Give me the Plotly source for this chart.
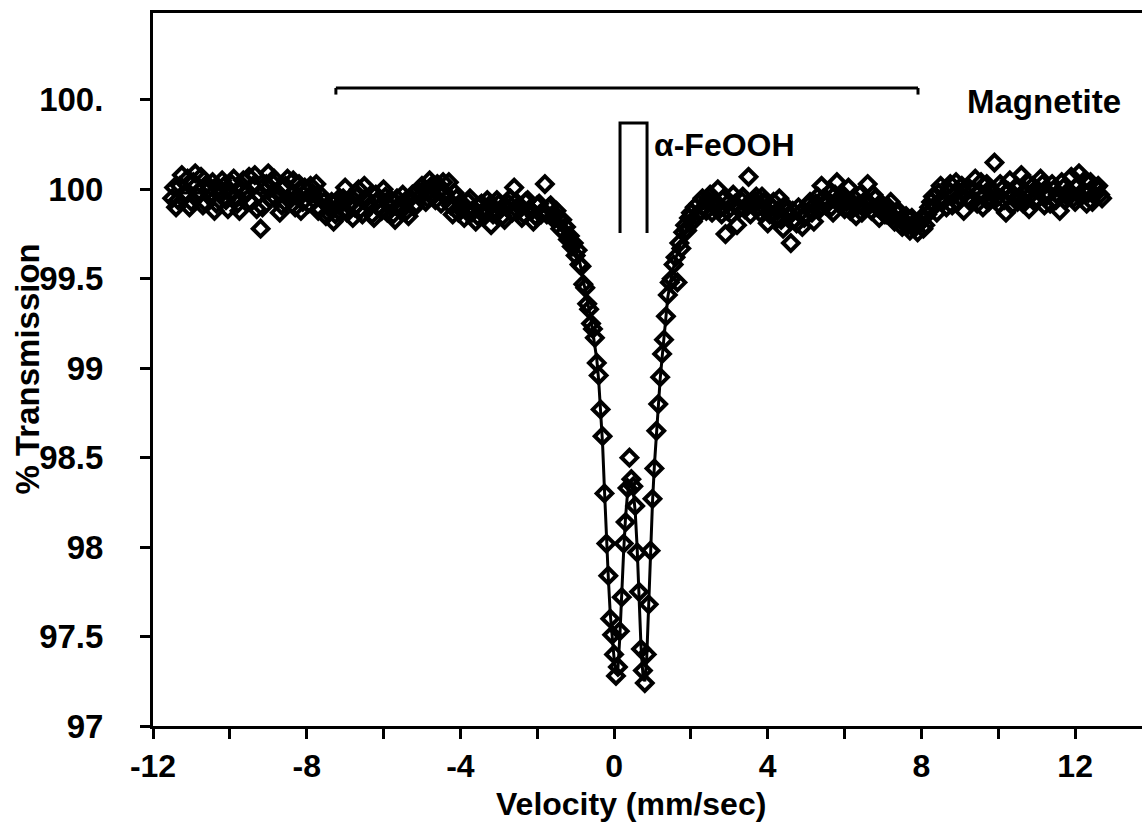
import plotly.graph_objects as go

# ---- measured spectrum (velocity in mm/s, % transmission) ----
vel_left = [-11.5, -11.4, -11.3, -11.2, -11.1, -11.0, -10.9, -10.8, -10.7, -10.6,
            -10.5, -10.4, -10.3, -10.2, -10.1, -10.0, -9.9, -9.8, -9.7, -9.6,
            -9.5, -9.4, -9.3, -9.2, -9.1, -9.0, -8.9, -8.8, -8.7, -8.6,
            -8.5, -8.4, -8.3, -8.2, -8.1, -8.0, -7.9, -7.8, -7.7, -7.6,
            -7.5, -7.4, -7.3, -7.2, -7.1, -7.0, -6.9, -6.8, -6.7, -6.6,
            -6.5, -6.4, -6.3, -6.2, -6.1, -6.0, -5.9, -5.8, -5.7, -5.6,
            -5.5, -5.4, -5.3, -5.2, -5.1, -5.0, -4.9, -4.8, -4.7, -4.6,
            -4.5, -4.4, -4.3, -4.2, -4.1, -4.0, -3.9, -3.8, -3.7, -3.6,
            -3.5, -3.4, -3.3, -3.2, -3.1, -3.0, -2.9, -2.8, -2.7, -2.6,
            -2.5, -2.4, -2.3, -2.2, -2.1, -2.0, -1.9, -1.8, -1.7, -1.6, -1.5]
trans_left = [99.95, 99.90, 100.02, 99.97, 100.06, 99.93, 100.09, 99.99, 99.91, 100.03,
              99.96, 99.88, 100.01, 100.05, 99.94, 99.98, 100.06, 99.92, 100.00, 99.97,
              100.07, 100.02, 99.89, 99.78, 99.99, 100.09, 100.04, 99.95, 99.87, 100.01,
              100.06, 99.97, 99.90, 100.03, 99.93, 99.99, 100.02, 99.94, 99.88, 99.96,
              99.85, 99.90, 99.82, 99.94, 99.87, 100.01, 99.91, 99.84, 99.96, 99.89,
              100.02, 99.93, 99.86, 99.97, 99.90, 100.00, 99.87, 99.94, 99.83, 99.91,
              99.97, 99.88, 99.95, 99.90, 99.99, 100.02, 99.93, 100.05, 99.97, 100.03,
              99.92, 99.98, 100.04, 99.86, 99.95, 99.89, 99.84, 99.93, 99.87, 99.82,
              99.91, 99.86, 99.94, 99.80, 99.89, 99.92, 99.85, 99.90, 99.95, 100.01,
              99.88, 99.84, 99.93, 99.89, 99.82, 99.91, 99.86, 100.03, 99.90, 99.84, 99.88]

vel_left_b = [-11.45, -11.35, -11.25, -11.15, -11.05, -10.95, -10.85, -10.75, -10.65, -10.55,
              -10.45, -10.35, -10.25, -10.15, -10.05, -9.95, -9.85, -9.75, -9.65, -9.55,
              -9.45, -9.35, -9.25, -9.15, -9.05, -8.95, -8.85, -8.75, -8.65, -8.55,
              -8.45, -8.35, -8.25, -8.15, -8.05, -7.95, -7.85, -7.75, -7.65, -7.55,
              -7.45, -7.35, -7.25, -7.15, -7.05, -6.95, -6.85, -6.75, -6.65, -6.55,
              -6.45, -6.35, -6.25, -6.15, -6.05, -5.95, -5.85, -5.75, -5.65, -5.55,
              -5.45, -5.35, -5.25, -5.15, -5.05, -4.95, -4.85, -4.75, -4.65, -4.55,
              -4.45, -4.35, -4.25, -4.15, -4.05, -3.95, -3.85, -3.75, -3.65, -3.55,
              -3.45, -3.35, -3.25, -3.15, -3.05, -2.95, -2.85, -2.75, -2.65, -2.55,
              -2.45, -2.35, -2.25, -2.15, -2.05, -1.95, -1.85, -1.75, -1.65, -1.55]
trans_left_b = [100.01, 99.94, 100.08, 99.98, 99.90, 100.04, 99.96, 100.07, 99.93, 100.00,
                100.04, 99.92, 99.97, 100.02, 99.89, 100.03, 99.96, 99.88, 100.05, 99.99,
                99.93, 100.08, 99.97, 99.90, 100.03, 99.95, 100.06, 99.98, 99.91, 100.02,
                99.94, 100.05, 99.96, 99.88, 100.01, 99.92, 99.98, 100.03, 99.89, 99.93,
                99.87, 99.93, 99.86, 99.91, 99.95, 99.87, 99.93, 99.90, 100.00, 99.86,
                99.95, 99.91, 99.84, 99.94, 99.88, 99.96, 99.91, 99.86, 99.95, 99.88,
                99.93, 99.85, 99.97, 99.92, 99.96, 100.00, 99.95, 100.02, 99.94, 99.99,
                100.04, 99.95, 99.91, 99.98, 99.87, 99.92, 99.88, 99.95, 99.89, 99.85,
                99.92, 99.88, 99.91, 99.86, 99.94, 99.89, 99.83, 99.92, 99.87, 99.93,
                99.90, 99.86, 99.94, 99.88, 99.85, 99.92, 99.88, 99.86, 99.91, 99.85]

vel_dip = [-1.45, -1.40, -1.35, -1.30, -1.25, -1.20, -1.15, -1.10, -1.05, -1.00,
           -0.95, -0.90, -0.85, -0.80, -0.75, -0.70, -0.65, -0.60, -0.55, -0.50,
           -0.45, -0.40, -0.35, -0.30, -0.25, -0.20, -0.15, -0.10, -0.05, 0.00,
           0.05, 0.10, 0.15, 0.20, 0.25, 0.30, 0.35, 0.40, 0.45, 0.50,
           0.55, 0.60, 0.65, 0.70, 0.75, 0.80, 0.85, 0.90, 0.95, 1.00,
           1.05, 1.10, 1.15, 1.20, 1.25, 1.30, 1.35, 1.40, 1.45, 1.50,
           1.55, 1.60, 1.65, 1.70, 1.75, 1.80, 1.85, 1.90, 1.95, 2.00,
           2.05, 2.10, 2.15, 2.20, 2.25]
trans_dip = [99.84, 99.78, 99.83, 99.76, 99.79, 99.72, 99.74, 99.68, 99.70, 99.63,
             99.66, 99.58, 99.57, 99.47, 99.45, 99.36, 99.33, 99.25, 99.22, 99.17,
             99.03, 98.96, 98.77, 98.62, 98.30, 98.02, 97.84, 97.60, 97.51, 97.40,
             97.28, 97.33, 97.53, 97.72, 98.02, 98.14, 98.33, 98.50, 98.38, 98.34,
             98.23, 97.97, 97.75, 97.43, 97.31, 97.24, 97.40, 97.68, 97.98, 98.27,
             98.44, 98.65, 98.80, 98.95, 99.08, 99.16, 99.29, 99.41, 99.48, 99.50,
             99.58, 99.62, 99.48, 99.70, 99.67, 99.76, 99.80, 99.77, 99.84, 99.87,
             99.82, 99.90, 99.85, 99.92, 99.88]

vel_right = [2.3, 2.4, 2.5, 2.6, 2.7, 2.8, 2.9, 3.0, 3.1, 3.2,
             3.3, 3.4, 3.5, 3.6, 3.7, 3.8, 3.9, 4.0, 4.1, 4.2,
             4.3, 4.4, 4.5, 4.6, 4.7, 4.8, 4.9, 5.0, 5.1, 5.2,
             5.3, 5.4, 5.5, 5.6, 5.7, 5.8, 5.9, 6.0, 6.1, 6.2,
             6.3, 6.4, 6.5, 6.6, 6.7, 6.8, 6.9, 7.0, 7.1, 7.2,
             7.3, 7.4, 7.5, 7.6, 7.7, 7.8, 7.9, 8.0, 8.1, 8.2,
             8.3, 8.4, 8.5, 8.6, 8.7, 8.8, 8.9, 9.0, 9.1, 9.2,
             9.3, 9.4, 9.5, 9.6, 9.7, 9.8, 9.9, 10.0, 10.1, 10.2,
             10.3, 10.4, 10.5, 10.6, 10.7, 10.8, 10.9, 11.0, 11.1, 11.2,
             11.3, 11.4, 11.5, 11.6, 11.7, 11.8, 11.9, 12.0, 12.1, 12.2,
             12.3, 12.4, 12.5, 12.6, 12.7]
trans_right = [99.95, 99.88, 99.97, 99.91, 100.00, 99.86, 99.75, 99.93, 99.97, 99.80,
               99.94, 99.89, 100.07, 99.92, 99.96, 99.87, 99.93, 99.81, 99.90, 99.84,
               99.95, 99.78, 99.88, 99.70, 99.83, 99.90, 99.79, 99.86, 99.93, 99.82,
               99.96, 100.02, 99.91, 99.98, 99.87, 100.04, 99.94, 99.89, 100.01, 99.92,
               99.85, 99.97, 99.90, 100.03, 99.88, 99.95, 99.84, 99.91, 99.86, 99.93,
               99.82, 99.88, 99.79, 99.85, 99.77, 99.81, 99.76, 99.84, 99.80, 99.90,
               99.96, 99.87, 100.02, 99.94, 99.99, 99.91, 100.04, 99.96, 99.88, 100.01,
               99.93, 100.06, 99.98, 99.90, 100.03, 99.95, 100.15, 99.92, 100.00, 99.87,
               100.05, 99.97, 99.93, 100.08, 99.99, 99.89, 100.02, 99.95, 100.06, 99.91,
               99.98, 100.03, 99.94, 99.88, 100.01, 99.96, 100.07, 99.93, 100.09, 99.99,
               99.92, 100.04, 99.97, 100.02, 99.95]

vel_right_b = [2.35, 2.45, 2.55, 2.65, 2.75, 2.85, 2.95, 3.05, 3.15, 3.25,
               3.35, 3.45, 3.55, 3.65, 3.75, 3.85, 3.95, 4.05, 4.15, 4.25,
               4.35, 4.45, 4.55, 4.65, 4.75, 4.85, 4.95, 5.05, 5.15, 5.25,
               5.35, 5.45, 5.55, 5.65, 5.75, 5.85, 5.95, 6.05, 6.15, 6.25,
               6.35, 6.45, 6.55, 6.65, 6.75, 6.85, 6.95, 7.05, 7.15, 7.25,
               7.35, 7.45, 7.55, 7.65, 7.75, 7.85, 7.95, 8.05, 8.15, 8.25,
               8.35, 8.45, 8.55, 8.65, 8.75, 8.85, 8.95, 9.05, 9.15, 9.25,
               9.35, 9.45, 9.55, 9.65, 9.75, 9.85, 9.95, 10.05, 10.15, 10.25,
               10.35, 10.45, 10.55, 10.65, 10.75, 10.85, 10.95, 11.05, 11.15, 11.25,
               11.35, 11.45, 11.55, 11.65, 11.75, 11.85, 11.95, 12.05, 12.15, 12.25,
               12.35, 12.45, 12.55, 12.65]
trans_right_b = [99.90, 99.94, 99.87, 99.93, 99.89, 99.95, 99.88, 99.86, 99.92, 99.89,
                 99.96, 99.91, 99.86, 99.94, 99.90, 99.96, 99.89, 99.86, 99.93, 99.88,
                 99.83, 99.91, 99.85, 99.88, 99.81, 99.87, 99.84, 99.91, 99.87, 99.92,
                 99.89, 99.95, 99.94, 99.90, 99.97, 99.92, 99.97, 99.93, 99.88, 99.95,
                 99.91, 99.87, 99.94, 99.92, 99.97, 99.90, 99.88, 99.86, 99.90, 99.85,
                 99.87, 99.83, 99.82, 99.80, 99.84, 99.79, 99.81, 99.78, 99.86, 99.93,
                 99.91, 99.98, 99.95, 99.90, 100.03, 99.97, 99.93, 100.02, 99.98, 99.94,
                 99.99, 99.92, 100.04, 99.97, 99.93, 99.99, 99.95, 100.03, 99.94, 99.99,
                 99.91, 100.01, 99.96, 99.92, 100.04, 99.97, 99.93, 99.99, 100.03, 99.96,
                 99.92, 100.00, 99.97, 100.04, 99.94, 99.99, 99.95, 100.02, 99.96, 100.05,
                 99.98, 99.93, 100.01, 99.97]

# ---- fitted curve ----
fit_vel = [-11.5, -10.0, -8.5, -7.5, -7.2, -6.8, -6.0, -5.0, -4.5, -4.0, -3.0, -2.0, -1.6,
           -1.4, -1.2, -1.1, -1.0, -0.9, -0.8, -0.7, -0.6, -0.5, -0.45, -0.4, -0.35,
           -0.3, -0.25, -0.2, -0.15, -0.1, -0.05, 0.0, 0.05, 0.1, 0.15, 0.2, 0.25,
           0.3, 0.35, 0.4, 0.45, 0.5, 0.55, 0.6, 0.65, 0.7, 0.75, 0.8, 0.85, 0.9,
           0.95, 1.0, 1.05, 1.1, 1.15, 1.2, 1.25, 1.3, 1.35, 1.4, 1.5, 1.6, 1.7,
           1.8, 1.9, 2.0, 2.2, 2.5, 3.0, 4.0, 4.6, 5.2, 6.0, 7.0, 7.8, 8.3, 9.0,
           10.0, 11.0, 12.0, 12.7]
fit_trans = [99.98, 99.98, 99.98, 99.94, 99.88, 99.93, 99.93, 99.94, 99.97, 99.92, 99.90, 99.89, 99.86,
             99.81, 99.75, 99.70, 99.66, 99.60, 99.50, 99.38, 99.27, 99.14, 99.05, 98.93, 98.78,
             98.58, 98.32, 98.05, 97.83, 97.63, 97.49, 97.38, 97.30, 97.32, 97.50, 97.76, 97.98,
             98.17, 98.30, 98.36, 98.36, 98.31, 98.20, 98.00, 97.72, 97.45, 97.29, 97.25, 97.38, 97.70,
             98.00, 98.25, 98.46, 98.63, 98.79, 98.94, 99.06, 99.18, 99.30, 99.40, 99.52, 99.61, 99.68,
             99.74, 99.79, 99.83, 99.88, 99.91, 99.92, 99.90, 99.84, 99.90, 99.94, 99.88, 99.80, 99.93, 99.98,
             99.98, 99.99, 99.98, 99.98]

# ---- axis ticks ----
x_tick_vals = [-12, -8, -4, 0, 4, 8, 12]
x_tick_text = ["-12", "-8", "-4", "0", "4", "8", "12"]
y_tick_vals = [97, 97.5, 98, 98.5, 99, 99.5, 100, 100.5]
y_tick_text = ["97", "97.5", "98", "98.5", "99", "99.5", "100", "100."]

# ---- line markers (brackets) ----
magnetite_span = [-7.24, 7.91]
magnetite_level = 100.567
magnetite_end_drop = 100.53
feooh_lines = [0.155, 0.858]
feooh_top = 100.371
feooh_bottom = 99.756

FONT = "Liberation Sans, Arial, sans-serif"

assert len(vel_left) == len(trans_left)
assert len(vel_left_b) == len(trans_left_b)
assert len(vel_dip) == len(trans_dip)
assert len(vel_right) == len(trans_right)
assert len(vel_right_b) == len(trans_right_b)
assert len(fit_vel) == len(fit_trans)

vel_all = vel_left + vel_left_b + vel_dip + vel_right + vel_right_b
trans_all = trans_left + trans_left_b + trans_dip + trans_right + trans_right_b

fig = go.Figure()
fig.add_trace(go.Scatter(x=fit_vel, y=fit_trans, mode="lines",
                         line=dict(color="black", width=3), showlegend=False,
                         hoverinfo="skip"))
fig.add_trace(go.Scatter(x=vel_all, y=trans_all, mode="markers",
                         marker=dict(symbol="diamond-open", size=12, color="black",
                                     line=dict(color="black", width=4)),
                         showlegend=False))

# magnetite bracket
fig.add_shape(type="line", xref="x", yref="y",
              x0=magnetite_span[0], x1=magnetite_span[1],
              y0=magnetite_level, y1=magnetite_level,
              line=dict(color="black", width=3))
for xv in magnetite_span:
    fig.add_shape(type="line", xref="x", yref="y", x0=xv, x1=xv,
                  y0=magnetite_level, y1=magnetite_end_drop,
                  line=dict(color="black", width=3))
# alpha-FeOOH bracket
fig.add_shape(type="path", xref="x", yref="y",
              path=(f"M {feooh_lines[0]},{feooh_bottom} L {feooh_lines[0]},{feooh_top} "
                    f"L {feooh_lines[1]},{feooh_top} L {feooh_lines[1]},{feooh_bottom}"),
              line=dict(color="black", width=3))

BOLD = dict(family=FONT, color="black", weight="bold")

fig.add_annotation(x=9.13, y=100.49, xref="x", yref="y", text="Magnetite",
                   showarrow=False, xanchor="left", yanchor="middle",
                   font=dict(BOLD, size=33))
fig.add_annotation(x=1.0, y=100.25, xref="x", yref="y", text="α-FeOOH",
                   showarrow=False, xanchor="left", yanchor="middle",
                   font=dict(BOLD, size=32))

# axis titles
fig.add_annotation(x=-0.1274, y=0.5, xref="paper", yref="paper", text="% Transmission",
                   textangle=-90, showarrow=False, xanchor="center", yanchor="middle",
                   font=dict(BOLD, size=33))
fig.add_annotation(x=0.483, y=-0.11, xref="paper", yref="paper", text="Velocity (mm/sec)",
                   showarrow=False, xanchor="center", yanchor="middle",
                   font=dict(BOLD, size=32))

fig.update_layout(
    width=1142, height=829,
    margin=dict(l=153, r=0, t=13, b=103),
    paper_bgcolor="white", plot_bgcolor="white",
    font=dict(family=FONT, color="black"),
)
fig.update_xaxes(range=[-12, 13.74], showgrid=False, zeroline=False,
                 showline=True, linecolor="black", linewidth=3, mirror=True,
                 tickmode="array", tickvals=x_tick_vals, ticktext=x_tick_text,
                 ticks="outside", ticklen=10, tickwidth=2.5, tickcolor="black",
                 ticklabelstandoff=0,
                 tickfont=dict(BOLD, size=32),
                 minor=dict(dtick=2, tick0=0, ticks="outside", ticklen=10,
                            tickwidth=2.5, tickcolor="black"))
fig.update_yaxes(range=[97, 100.986], showgrid=False, zeroline=False,
                 showline=True, linecolor="black", linewidth=3, mirror=False,
                 tickmode="array", tickvals=y_tick_vals, ticktext=y_tick_text,
                 ticks="outside", ticklen=10, tickwidth=3, tickcolor="black",
                 ticklabelstandoff=30,
                 tickfont=dict(BOLD, size=33))

fig.write_html("out.html")
